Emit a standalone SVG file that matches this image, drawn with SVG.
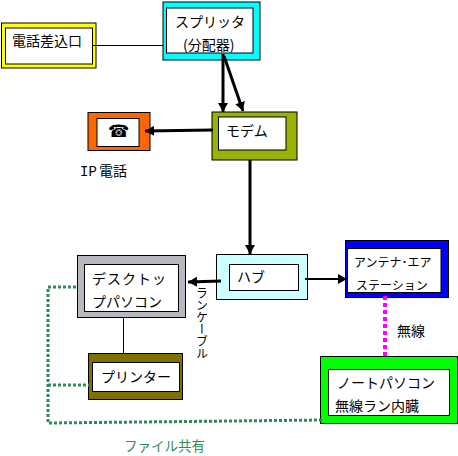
<svg xmlns="http://www.w3.org/2000/svg" width="458" height="456" viewBox="0 0 458 456">
<defs>
<marker id="ah" markerUnits="userSpaceOnUse" markerWidth="10" markerHeight="10" refX="9" refY="5" orient="auto"><path d="M0 0L9 5L0 10Z" fill="#000"/></marker>
</defs>
<style>
rect{stroke:#000;stroke-width:1}
.in{fill:#fff}
text{font-family:"Noto Sans CJK JP","Liberation Sans",sans-serif;font-size:14px;fill:#000}
.c{fill:none;stroke:#000}
.t{stroke-width:3}
.g{fill:none;stroke:#2e8b57;stroke-width:3;stroke-dasharray:3 2}
</style>
<rect width="458" height="456" style="fill:#fff;stroke:none"/>
<g id="n-jack"><rect x="1.500" y="23" width="94.500" height="45" fill="#ff0"/><rect class="in" x="5.500" y="28" width="87" height="36"/><text x="12" y="46">電話差込口</text></g>
<g id="n-splitter"><rect x="163" y="2" width="97" height="58" fill="#0ff"/><rect class="in" x="166.500" y="8" width="86.500" height="45"/><text x="175" y="27">スプリッタ</text><text x="183" y="50">(分配器)</text></g>
<g id="n-modem"><rect x="212" y="112" width="85" height="48" fill="#99b300"/><rect class="in" x="218.500" y="117" width="67.500" height="33"/><text x="226" y="136">モデム</text></g>
<g id="n-phone"><rect x="88" y="112.500" width="62" height="38" fill="#f60"/><rect class="in" x="97" y="118.500" width="42" height="28"/><text x="108" y="137" style="font-family:'DejaVu Sans',sans-serif;font-size:17px">☎</text></g>
<text id="l-ip" x="80" y="176"><tspan style="font-family:'Liberation Mono',monospace">IP</tspan><tspan x="99">電話</tspan></text>
<g id="n-hub"><rect x="216.500" y="254.500" width="91" height="45" fill="#ccffff"/><rect class="in" x="229.500" y="264.500" width="69" height="26"/><text x="237" y="282">ハブ</text></g>
<g id="n-antenna"><rect x="345.500" y="240.500" width="103" height="57" fill="#00f"/><rect class="in" x="347.500" y="248.500" width="93.500" height="44"/><text x="354" y="267" style="font-size:12px">アンテナ･エア</text><text x="356" y="290" style="font-size:12px">ステーション</text></g>
<g id="n-desktop"><rect x="77.500" y="255.500" width="108" height="62" fill="#b8b8c0"/><rect class="in" x="84.500" y="264.500" width="94" height="47"/><text x="92" y="284" style="letter-spacing:1px">デスクトッ</text><text x="92" y="307">プパソコン</text></g>
<g id="n-printer"><rect x="88.500" y="353.500" width="94" height="46" fill="#807000"/><rect class="in" x="92.500" y="362.500" width="87" height="29"/><text x="101" y="382">プリンター</text></g>
<g id="n-laptop"><rect x="320.500" y="356.500" width="137" height="67" fill="#0f0"/><rect class="in" x="328.500" y="369.500" width="121" height="46"/><text x="337" y="388">ノートパソコン</text><text x="335" y="411">無線ラン内臓</text></g>
<text id="l-cable" x="202" y="287" style="font-size:12px;writing-mode:vertical-rl">ランケーブル</text>
<text id="l-wireless" x="397" y="336">無線</text>
<text id="l-share" x="124" y="451" style="fill:#2e8b57;font-size:13.500px">ファイル共有</text>
<g id="connectors">
<path class="c" d="M93 45.500H163"/>
<path class="c t" d="M223 54V112" marker-end="url(#ah)"/>
<path class="c t" d="M224 56L243 111" marker-end="url(#ah)"/>
<path class="c t" d="M213 130L145 131" marker-end="url(#ah)"/>
<path class="c t" d="M250 160V254" marker-end="url(#ah)"/>
<path class="c t" d="M221 281L188 282" marker-end="url(#ah)"/>
<path class="c" style="stroke-width:2" d="M305 279H347" marker-end="url(#ah)"/>
<path class="c" d="M123.500 317V354"/>
<path d="M385 296V356" style="fill:none;stroke:#f0f;stroke-width:4;stroke-dasharray:4 3"/>
<path class="g" d="M76 287L48 287V423L323 420"/>
<path class="g" d="M48 385H89"/>
</g>
</svg>
